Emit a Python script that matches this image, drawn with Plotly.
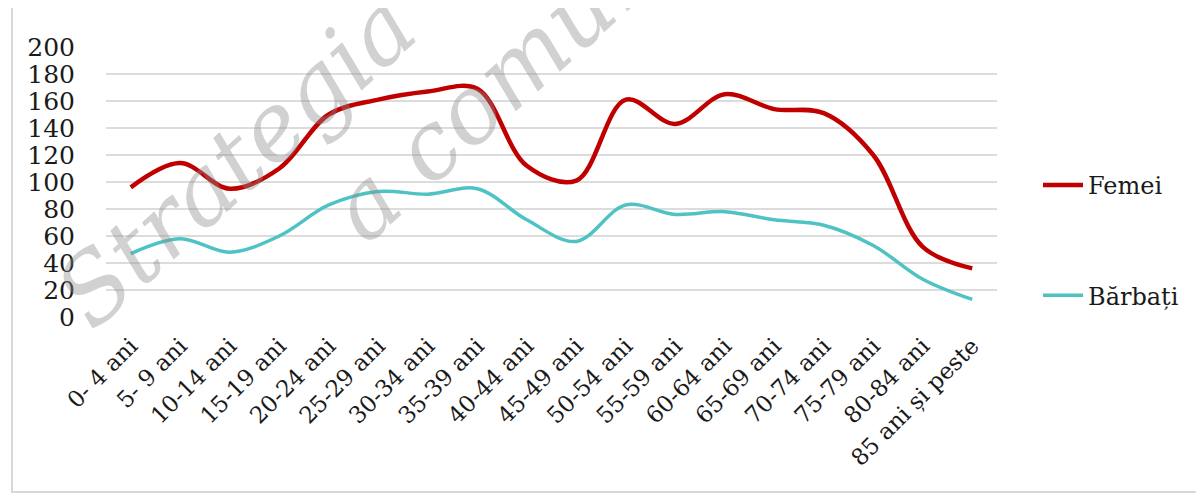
import plotly.graph_objects as go

categories = ["0- 4 ani", "5- 9 ani", "10-14 ani", "15-19 ani", "20-24 ani", "25-29 ani",
              "30-34 ani", "35-39 ani", "40-44 ani", "45-49 ani", "50-54 ani", "55-59 ani",
              "60-64 ani", "65-69 ani", "70-74 ani", "75-79 ani", "80-84 ani", "85 ani și peste"]
femei = [96, 114, 95, 110, 150, 161, 167, 169, 112, 101, 161, 143, 165, 154, 151, 120, 52, 36]
barbati = [47, 58, 48, 60, 83, 93, 91, 95, 72, 56, 83, 76, 78, 72, 68, 53, 28, 13]
y_ticks = list(range(0, 201, 20))

# the page body has an 8px margin: figure drawn from screen (8, 8)
OFF = 8
W, H = 1188, 486
# target plot area in screen pixels
SL, SR, ST, SB = 106, 997, 47, 317
PL, PR, PT, PB = SL - OFF, SR - OFF, ST - OFF, SB - OFF


def px(x):  # screen x -> paper
    return (x - SL) / (SR - SL)


def py(y):  # screen y -> paper
    return (SB - y) / (SB - ST)


FONT = "DejaVu Serif"

fig = go.Figure()
fig.add_trace(go.Scatter(x=categories, y=femei, name="Femei", mode="lines",
                         line=dict(color="#C00000", width=4.5, shape="spline", smoothing=1),
                         legendgroup="f"))
fig.add_trace(go.Scatter(x=categories, y=barbati, name="Bărbați", mode="lines",
                         line=dict(color="#4FC3C3", width=3.5, shape="spline", smoothing=1),
                         legendgroup="b"))

fig.update_layout(
    width=W, height=H,
    margin=dict(l=PL, r=W - PR, t=PT, b=H - PB, pad=0, autoexpand=False),
    paper_bgcolor="white", plot_bgcolor="white",
    font=dict(family=FONT, size=24, color="#1a1a1a"),
    showlegend=True,
    legend=dict(x=px(1038), y=py(163), xanchor="left", yanchor="top",
                traceorder="grouped", tracegroupgap=76,
                font=dict(family=FONT, size=24, color="#1a1a1a"),
                bgcolor="rgba(0,0,0,0)", itemwidth=40),
    xaxis=dict(type="category", range=[-0.5, len(categories) - 0.5], automargin=False,
               tickangle=-45, showgrid=False, showline=False, zeroline=False,
               ticks="", ticklabelstandoff=10,
               tickfont=dict(family=FONT, size=23, color="#1a1a1a")),
    yaxis=dict(range=[0, 200], tickvals=y_ticks, showgrid=True, gridcolor="#dcdcdc",
               gridwidth=2, zeroline=False, showline=False, ticks="", automargin=False,
               ticklabelstandoff=30,
               tickfont=dict(family=FONT, size=25, color="#1a1a1a")),
)

# chart frame
fig.add_shape(type="rect", xref="paper", yref="paper",
              x0=px(12), x1=px(1260), y0=py(492), y1=py(-20),
              line=dict(color="#d8d8d8", width=2), fillcolor="rgba(0,0,0,0)", layer="below")

# watermark
wm = dict(showarrow=False, xref="paper", yref="paper", textangle=-42,
          xanchor="center", yanchor="middle",
          font=dict(family=FONT, size=94, color="rgba(140,140,140,0.40)", style="italic"))
fig.add_annotation(text="Strategia", x=px(235), y=py(160), **wm)
fig.add_annotation(text="a comunei", x=px(526), y=py(58), **wm)

fig.write_html("out.html")
